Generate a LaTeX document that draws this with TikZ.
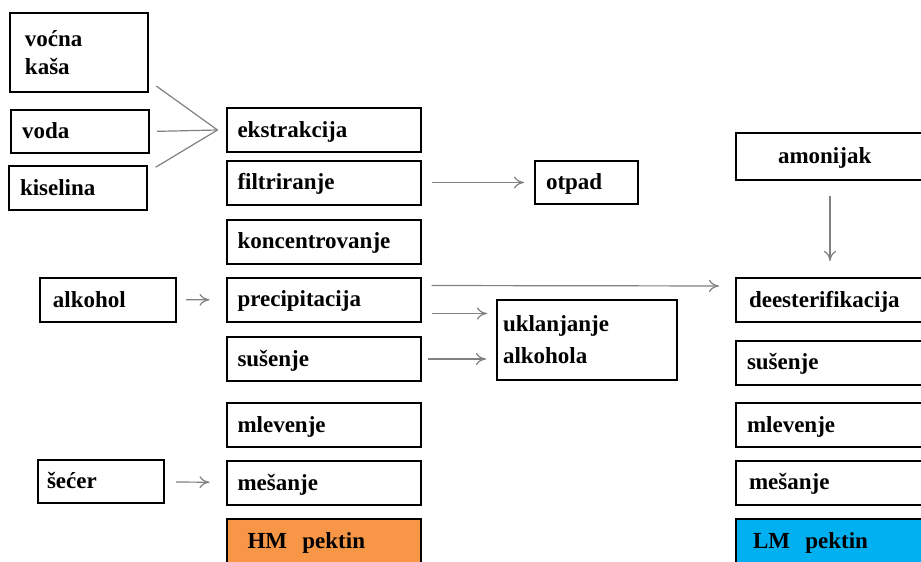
\documentclass[tikz,border=0pt]{standalone}
\usepackage{fontspec}
\setmainfont{Liberation Serif}
\usepackage{xcolor}
\usetikzlibrary{arrows.meta, positioning}

\definecolor{hmnarandz}{HTML}{F79646}
\definecolor{lmplava}{HTML}{00B0F0}

\begin{document}
\begin{tikzpicture}[x=0.5pt,y=-0.5pt,>={To[length=5pt,width=6pt]},
    okvir/.style={draw,line width=1pt,minimum height=22pt,text width=86pt,
      inner xsep=5.5pt,inner ysep=2pt,align=left,
      font=\fontsize{11.5}{14}\selectfont\bfseries},
    korak/.style={okvir,text height=8pt,text depth=1pt},
    ulazni/.style={korak,text width=58pt},
    linija/.style={gray,line width=0.6pt},
    strelica/.style={linija,->}]
  \useasboundingbox (0,0) rectangle (921,562);
  % ulazi u ekstrakciju
  \node[okvir,minimum height=39.5pt,text width=54pt,inner xsep=7.5pt] (vocna) at (79,52.5) {vo\'cna\\ka\v{s}a};
  \node[ulazni,minimum height=21.5pt] (voda) at (80,131.5) {voda};
  \node[ulazni] (kiselina) at (78,188) {kiselina};
  % glavni tok (HM pektin)
  \node[korak] (ekstrakcija) at (323.5,130) {ekstrakcija};
  \node[korak] (filtriranje) at (323.5,182.5) {filtriranje};
  \node[korak] (koncentr) at (323.5,241.5) {koncentrovanje};
  \node[korak] (precip) at (323.5,299.5) {precipitacija};
  \node[korak] (susenje) at (323.5,359) {su\v{s}enje};
  \node[korak] (mlevenje) at (323.5,425) {mlevenje};
  \node[korak] (mesanje) at (323.5,483) {me\v{s}anje};
  \node[korak,fill=hmnarandz] (hmpektin) at (323.5,541)
    {\hspace*{5pt}HM\ \ pektin};
  % bocni ulazi i izlazi
  \node[ulazni,text width=57pt,inner xsep=5.5pt] (alkohol) at (108,300) {\hspace*{1pt}alkohol};
  \node[ulazni,minimum height=21.5pt,text width=54pt,inner xsep=4.5pt] (secer) at (101,481.5) {\v{s}e\'cer};
  \node[ulazni,minimum height=21.5pt,text width=40.5pt] (otpad) at (586.5,182.5) {otpad};
  \node[okvir,minimum height=40pt,text width=84pt,inner xsep=3pt] (uklanjanje) at (587,340)
    {uklanjanje\\[2pt]alkohola};
  % desni tok (LM pektin)
  \node[korak,minimum height=23.5pt,text width=55pt,inner xsep=21pt] (amonijak) at (833,156.5) {amonijak};
  \node[korak] (deester) at (833,300) {\hspace*{1pt}deesterifikacija};
  \node[korak] (susenje2) at (833,362.5) {su\v{s}enje};
  \node[korak] (mlevenje2) at (833,425) {mlevenje};
  \node[korak] (mesanje2) at (833,482.5) {\hspace*{1pt}me\v{s}anje};
  \node[korak,fill=lmplava] (lmpektin) at (833,541)
    {\hspace*{3pt}LM\ \ pektin};
  % veze
  \coordinate (ulaz) at ([xshift=-4pt]ekstrakcija.west);
  \draw[linija,shorten <=4.5pt] (vocna.-22) -- (ulaz);
  \draw[linija,shorten <=3.5pt] (voda.east) -- (ulaz);
  \draw[linija,shorten <=4.5pt] (kiselina.13) -- (ulaz);
  \draw[strelica,shorten <=5pt,shorten >=5pt] (filtriranje) -- (otpad);
  \draw[strelica,shorten <=4.5pt,shorten >=8pt] (alkohol) -- (precip);
  \draw[strelica,shorten <=5pt,shorten >=8pt]
    ([yshift=7pt]precip.east) -- ([yshift=7pt]deester.west);
  \draw[strelica,shorten <=5pt,shorten >=4.5pt]
    ([yshift=-7pt]precip.east) -- ([yshift=-7pt]precip.east -| uklanjanje.west);
  \draw[strelica,shorten <=3pt,shorten >=5pt]
    (susenje.east) -- (susenje.east -| uklanjanje.west);
  \draw[strelica,shorten <=5.5pt,shorten >=8pt] (secer) -- (mesanje);
  \draw[strelica,shorten <=7.5pt,shorten >=8pt]
    ([xshift=-1.5pt]amonijak.south) -- ([xshift=-1.5pt]deester.north);
\end{tikzpicture}
\end{document}
